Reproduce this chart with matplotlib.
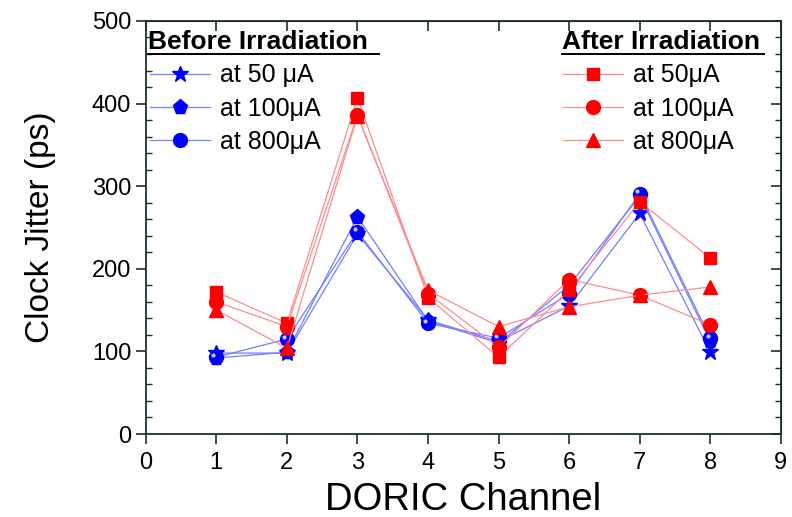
import numpy as np
import matplotlib
matplotlib.use("Agg")
import matplotlib.pyplot as plt
from matplotlib.ticker import MultipleLocator

plt.rcParams['font.family'] = ['Liberation Sans', 'DejaVu Sans']

channels = [1, 2, 3, 4, 5, 6, 7, 8]

before_50 = [98, 98, 242, 138, 112, 155, 267, 99]
before_100 = [92, 99, 263, 137, 110, 180, 288, 112]
before_800 = [93, 115, 245, 134, 116, 170, 291, 116]

after_50 = [172, 134, 407, 165, 93, 174, 281, 213]
after_100 = [160, 130, 386, 170, 105, 187, 168, 132]
after_800 = [150, 104, 385, 174, 130, 154, 168, 178]

before_labels = ["at 50 \u03bcA", "at 100\u03bcA", "at 800\u03bcA"]
after_labels = ["at 50\u03bcA", "at 100\u03bcA", "at 800\u03bcA"]

blue = '#0000ff'
red = '#ff0000'
blue_line = '#7080ff'
red_line = '#ff8c8c'
spine_col = '#1c3030'

fig = plt.figure(figsize=(7.92, 5.17), dpi=100)
ax = fig.add_axes([0.184, 0.1605, 0.802, 0.799])

b_series = [before_50, before_100, before_800]
b_markers = ['*', 'p', 'o']
b_sizes = [12, 11, 10]
a_series = [after_50, after_100, after_800]
a_markers = ['s', 'o', '^']
a_sizes = [9, 10, 10]

b_handles = []
for ys, m, s in zip(b_series, b_markers, b_sizes):
    h, = ax.plot(channels, ys, color=blue_line, lw=0.9, marker=m, ms=s,
                 mfc=blue, mec=blue, zorder=3)
    b_handles.append(h)
# highlight on the sphere markers
ax.plot(np.array(channels) - 0.04, np.array(before_800) + 3, ls='none',
        marker='o', ms=3, mfc='#c8c8ff', mec='none', zorder=4)

a_handles = []
for ys, m, s in zip(a_series, a_markers, a_sizes):
    h, = ax.plot(channels, ys, color=red_line, lw=0.9, marker=m, ms=s,
                 mfc=red, mec=red, zorder=5)
    a_handles.append(h)

ax.set_xlim(0, 9)
ax.set_ylim(0, 500)
ax.xaxis.set_major_locator(MultipleLocator(1))
ax.yaxis.set_major_locator(MultipleLocator(100))
ax.yaxis.set_minor_locator(MultipleLocator(20))

ax.tick_params(axis='both', which='major', labelsize=17, color=spine_col,
               width=1.2, length=7, direction='out', top=False, right=False)
ax.tick_params(axis='x', which='major', pad=6)
ax.tick_params(axis='y', which='minor', direction='in', length=4,
               width=1.0, color=spine_col, left=True, right=False)
for sp in ax.spines.values():
    sp.set_color(spine_col)
    sp.set_linewidth(1.3)

# inward ticks on the top and right sides
sec_x = ax.secondary_xaxis('top')
sec_x.xaxis.set_major_locator(MultipleLocator(1))
sec_x.tick_params(direction='in', length=7, width=1.2, color=spine_col,
                  labeltop=False)
sec_y = ax.secondary_yaxis('right')
sec_y.yaxis.set_major_locator(MultipleLocator(100))
sec_y.yaxis.set_minor_locator(MultipleLocator(20))
sec_y.tick_params(which='major', direction='in', length=7, width=1.2,
                  color=spine_col, labelright=False)
sec_y.tick_params(which='minor', direction='in', length=4, width=1.0,
                  color=spine_col)

ax.set_xlabel("DORIC Channel", fontsize=27.5, labelpad=6)
ax.set_ylabel("Clock Jitter (ps)", fontsize=24, labelpad=26)

leg_kw = dict(frameon=False, fontsize=18, handlelength=2.4,
              handletextpad=0.4, labelspacing=0.37, borderpad=0,
              borderaxespad=0, loc='upper left')
leg1 = ax.legend(b_handles, before_labels, bbox_to_anchor=(0.006, 0.897),
                 **leg_kw)
ax.add_artist(leg1)
ax.legend(a_handles, after_labels, bbox_to_anchor=(0.657, 0.897), **leg_kw)

# underlined bold titles
ax.text(0.003, 0.949, "Before Irradiation", transform=ax.transAxes,
        fontsize=19, fontweight='bold', ha='left', va='center')
ax.plot([0.003, 0.368], [0.919, 0.919], transform=ax.transAxes,
        color='black', lw=1.4, clip_on=False)
ax.text(0.655, 0.949, "After Irradiation", transform=ax.transAxes,
        fontsize=19, fontweight='bold', ha='left', va='center')
ax.plot([0.655, 0.973], [0.919, 0.919], transform=ax.transAxes,
        color='black', lw=1.4, clip_on=False)

fig.savefig("out.png", dpi=100)
